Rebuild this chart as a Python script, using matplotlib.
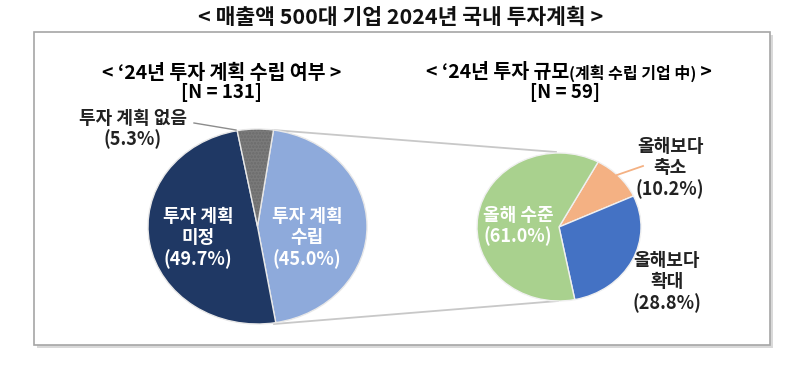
import matplotlib
matplotlib.use("Agg")
import matplotlib.pyplot as plt
from matplotlib.patches import Rectangle

plt.rcParams['font.family'] = ['Noto Sans CJK KR', 'DejaVu Sans']
plt.rcParams['hatch.linewidth'] = 1.2

# Left pie: '24 investment plan status (N = 131)
left_labels = ['투자 계획\n수립', '투자 계획\n미정', '투자 계획 없음']
left_values = [45.0, 49.7, 5.3]
left_colors = ['#8eaadb', '#1f3864', '#7a7a7a']

# Right pie: '24 investment size among planning firms (N = 59)
right_labels = ['올해보다\n축소', '올해보다\n확대', '올해 수준']
right_values = [10.2, 28.8, 61.0]
right_colors = ['#f4b183', '#4472c4', '#a9d18e']

title = '< 매출액 500대 기업 2024년 국내 투자계획 >'
left_title = '< ‘24년 투자 계획 수립 여부 >'
left_n = '[N = 131]'
right_title = ['< ‘24년 투자 규모', '(계획 수립 기업 中)', ' >']
right_n = '[N = 59]'

W, H = 800, 370
fig = plt.figure(figsize=(W / 100, H / 100), dpi=100)

# background layer: frame + connecting lines (pixel coordinates)
bg = fig.add_axes([0, 0, 1, 1], zorder=0)
bg.set_xlim(0, W)
bg.set_ylim(H, 0)
bg.axis('off')
bg.add_patch(Rectangle((37, 35), 736, 313, facecolor='#d9d9d9', edgecolor='none'))
bg.add_patch(Rectangle((34, 32), 736, 313, facecolor='white', edgecolor='#a6a6a6', lw=1.2))
bg.plot([273, 556], [130, 152], color='#c8c8c8', lw=1.3)
bg.plot([274, 558], [324, 301], color='#c8c8c8', lw=1.3)


def pix_axes(x0, y0, x1, y1, z):
    return fig.add_axes([x0 / W, 1 - y1 / H, (x1 - x0) / W, (y1 - y0) / H], zorder=z)


# left pie (slightly stretched horizontally like the source)
axl = pix_axes(148, 129, 367, 324, 1)
wl, _ = axl.pie(left_values, colors=left_colors, startangle=81.6, counterclock=False,
                wedgeprops=dict(edgecolor='#e8e8e8', linewidth=1.0))
wl[2].set_hatch('.....')
wl[2]._hatch_color = (0.42, 0.42, 0.42, 1)
axl.set_aspect('auto')
axl.set_xlim(-1, 1)
axl.set_ylim(-1, 1)

# right pie
axr = pix_axes(477, 153, 641, 301, 1)
axr.pie(right_values, colors=right_colors, startangle=61.5, counterclock=False,
        wedgeprops=dict(edgecolor='#f0f0f0', linewidth=1.0))
axr.set_aspect('auto')
axr.set_xlim(-1, 1)
axr.set_ylim(-1, 1)

# foreground text layer
fg = fig.add_axes([0, 0, 1, 1], zorder=2)
fg.set_xlim(0, W)
fg.set_ylim(H, 0)
fg.axis('off')
fg.patch.set_alpha(0)

fg.text(401, 17, title, ha='center', va='center', fontsize=15.5, fontweight='bold', color='#111111')

fg.text(222, 73, left_title, ha='center', va='center', fontsize=14, fontweight='bold')
fg.text(221, 93, left_n, ha='center', va='center', fontsize=13.5, fontweight='bold')

# right title with smaller parenthetical part, centred as a whole
parts = []
sizes = [14, 11.5, 14]
x = 0
for s, fs in zip(right_title, sizes):
    t = fg.text(x, 72 if fs > 12 else 73, s, ha='left', va='center', fontsize=fs, fontweight='bold')
    fig.canvas.draw()
    bb = t.get_window_extent().transformed(fg.transData.inverted())
    parts.append(t)
    x = bb.x1
shift = 569 - x / 2
for t in parts:
    t.set_x(t.get_position()[0] + shift)
fg.text(565, 93, right_n, ha='center', va='center', fontsize=13.5, fontweight='bold')

lab_fs = 13
ls = 1.12
# left pie labels
fg.text(307, 238, f'{left_labels[0]}\n({left_values[0]:.1f}%)', ha='center', va='center',
        fontsize=lab_fs, fontweight='bold', color='white', linespacing=ls)
fg.text(198, 238, f'{left_labels[1]}\n({left_values[1]:.1f}%)', ha='center', va='center',
        fontsize=lab_fs, fontweight='bold', color='white', linespacing=ls)
fg.text(133, 129, f'{left_labels[2]}\n({left_values[2]:.1f}%)', ha='center', va='center',
        fontsize=lab_fs, fontweight='bold', color='#222222', linespacing=ls)
fg.plot([194, 236], [123, 130], color='#8c8c8c', lw=1)

# right pie labels
fg.text(518, 226, f'올해 수준\n({right_values[2]:.1f}%)', ha='center', va='center',
        fontsize=lab_fs, fontweight='bold', color='white', linespacing=ls)
fg.text(670, 168, f'{right_labels[0]}\n({right_values[0]:.1f}%)', ha='center', va='center',
        fontsize=lab_fs, fontweight='bold', color='#222222', linespacing=ls)
fg.plot([617, 643], [175, 166], color='#f4b183', lw=1.3)
fg.text(667, 282, f'{right_labels[1]}\n({right_values[1]:.1f}%)', ha='center', va='center',
        fontsize=lab_fs, fontweight='bold', color='#222222', linespacing=ls)

fig.savefig('out.png', dpi=100)
